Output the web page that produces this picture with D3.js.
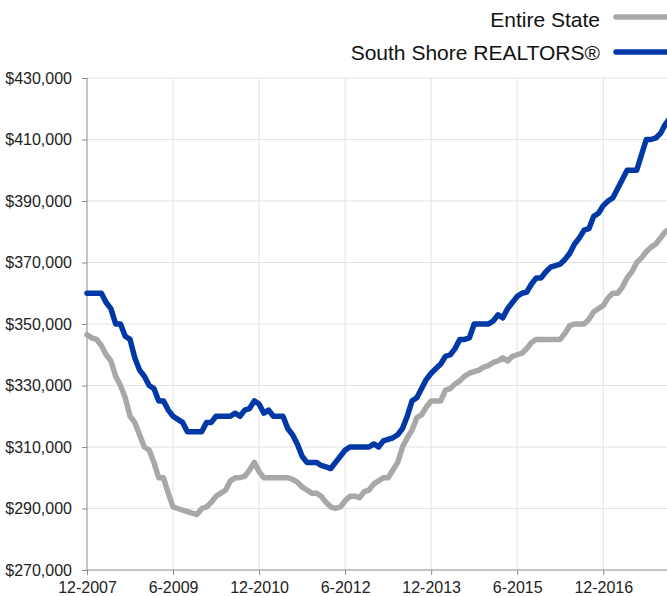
<!DOCTYPE html>
<html lang="en">
<head>
<meta charset="UTF-8">
<title>Median Price - Entire State vs South Shore</title>
<script src="https://cdnjs.cloudflare.com/ajax/libs/d3/7.8.5/d3.min.js"></script>
<style>
    body { margin: 0; background: #fff; overflow: hidden; }
    svg { display: block; font-family: "Liberation Sans", Arial, sans-serif; }
    .grid line { stroke: #e3e3e3; stroke-width: 1; }
    .axis path, .axis line { stroke: #8a8a8a; }
    .axis text { fill: #222; font-size: 16px; }
    .legend text { fill: #111; font-size: 21px; }
</style>
</head>
<body>
<svg id="chart" width="667" height="596"></svg>
<script>
// months start at 12-2007, one value per month
const tickLabels = ["12-2007", "6-2009", "12-2010", "6-2012", "12-2013", "6-2015", "12-2016"];
const yTicks = [270000, 290000, 310000, 330000, 350000, 370000, 390000, 410000, 430000];

const seriesNames = ["Entire State", "South Shore REALTORS®"];
const seriesColors = ["#a8a8a8", "#0039a6"];

// values in $1000s
const entireState = [
    346.5, 345.5, 345, 343, 340, 338, 333, 330, 326, 320, 318, 314, 310, 309, 305, 300, 300, 295,
    290.5, 290, 289.5, 289, 288.5, 288, 290, 290.5, 292, 294, 295, 296, 299, 300, 300, 300.5, 302.5, 305,
    302, 300, 300, 300, 300, 300, 300, 299.5, 298.6, 297, 296, 295, 295, 294, 292, 290.5, 290, 290.5,
    292.5, 294, 294, 293.5, 295.5, 296, 298, 299, 300, 300, 302.5, 305, 310, 313, 315.5, 319.5, 320.5, 323,
    325, 325, 325, 328.5, 329, 330.5, 331.5, 333, 334, 334.5, 335, 336, 336.5, 337.5, 338, 339, 338, 339.5,
    340, 340.5, 342, 344, 345, 345, 345, 345, 345, 345, 347, 349.5, 350, 350, 350, 351.5, 354, 355,
    356, 358.5, 360, 360, 362, 365, 367, 370, 371.5, 373.5, 375, 376, 378, 380, 381
];
const southShore = [
    360, 360, 360, 360, 357, 355, 350, 350, 346, 345, 339, 335, 333, 330, 329, 325, 325, 322,
    320, 319, 318, 315, 315, 315, 315, 318, 318, 320, 320, 320, 320, 321, 320, 322, 322.5, 325,
    324, 321, 322, 320, 320, 320, 316, 314, 311, 307, 305, 305, 305, 304, 303.5, 303, 305, 307,
    309, 310, 310, 310, 310, 310, 311, 310, 312, 312.5, 313, 314, 316, 320, 325, 326, 329, 332,
    334, 335.5, 337, 339.5, 340, 342, 345, 345, 345.5, 350, 350, 350, 350, 351, 353, 352, 355, 357,
    359, 360, 360.4, 363, 365, 365, 367, 368.5, 369, 369.5, 371, 373, 376, 378, 380.5, 381, 385, 386,
    388.5, 390, 391, 394, 397, 400, 400, 400, 405, 410, 410, 410.5, 412, 415, 417
];

const svg = d3.select("#chart");
const plotLeft = 87, plotTop = 78, plotBottom = 570;
const pxPerMonth = 4.78;
const monthCount = 126;

const x = d3.scaleLinear().domain([0, monthCount]).range([plotLeft, plotLeft + monthCount * pxPerMonth]);
const y = d3.scaleLinear().domain([270000, 430000]).range([plotBottom, plotTop]);

// grid
const grid = svg.append("g").attr("class", "grid");
grid.selectAll("line.h").data(yTicks.slice(1)).enter().append("line")
    .attr("x1", plotLeft).attr("x2", 667)
    .attr("y1", d => y(d)).attr("y2", d => y(d));
grid.selectAll("line.v").data(tickLabels.slice(1).map((_, i) => (i + 1) * 18).concat([126])).enter().append("line")
    .attr("x1", d => x(d)).attr("x2", d => x(d))
    .attr("y1", plotTop).attr("y2", plotBottom);

// axes
const yAxis = d3.axisLeft(y).tickValues(yTicks).tickSize(5).tickPadding(10)
    .tickFormat(d => "$" + d3.format(",")(d));
svg.append("g").attr("class", "axis").attr("transform", `translate(${plotLeft},0)`).call(yAxis)
    .call(g => g.select(".domain").attr("d", `M0,${plotTop}V${plotBottom}`));

const xAxis = d3.axisBottom(x).tickValues(tickLabels.map((_, i) => i * 18)).tickSize(5).tickPadding(7)
    .tickFormat((d, i) => tickLabels[i]);
svg.append("g").attr("class", "axis").attr("transform", `translate(0,${plotBottom})`).call(xAxis)
    .call(g => g.select(".domain").attr("d", `M${plotLeft},0H${x(monthCount)}`));

// lines
const line = d3.line().x((d, i) => x(i)).y(d => y(d * 1000));
[entireState, southShore].forEach((values, k) => {
    svg.append("path")
        .datum(values)
        .attr("fill", "none")
        .attr("stroke", seriesColors[k])
        .attr("stroke-width", 5.5)
        .attr("stroke-linejoin", "round")
        .attr("stroke-linecap", "round")
        .attr("d", line);
});

// legend
const legend = svg.append("g").attr("class", "legend");
const legendLineY = [17, 52];
const legendTextY = [27, 60];
seriesNames.forEach((name, k) => {
    legend.append("text").attr("x", 600).attr("y", legendTextY[k]).attr("text-anchor", "end").text(name);
    legend.append("line")
        .attr("x1", 616).attr("x2", 700).attr("y1", legendLineY[k]).attr("y2", legendLineY[k])
        .attr("stroke", seriesColors[k]).attr("stroke-width", 5.5).attr("stroke-linecap", "round");
});
</script>
</body>
</html>
